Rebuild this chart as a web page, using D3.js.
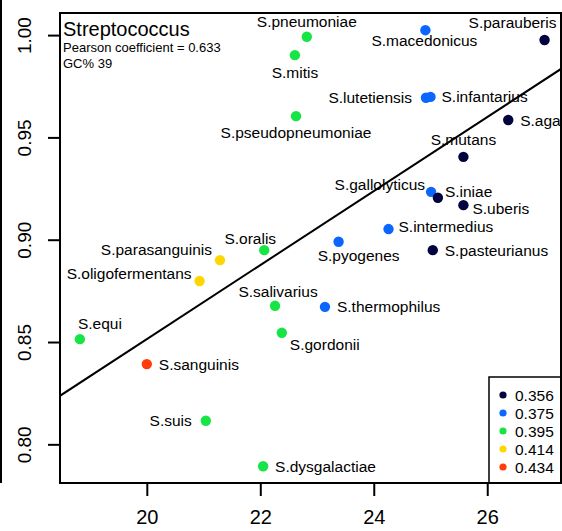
<!DOCTYPE html>
<html>
<head>
<meta charset="utf-8">
<script src="https://cdn.jsdelivr.net/npm/d3@7"></script>
<style>
  body { margin: 0; background: #fff; }
  text { font-family: "Liberation Sans", Arial, Helvetica, sans-serif; fill: #000; }
</style>
</head>
<body>
<div id="chart"></div>
<script>
var width = 562, height = 531;
var margin = { top: 13, right: 1, bottom: 48, left: 60 };

// species, x value, y value, GC group (index into gcLevels)
var species = ["S.pneumoniae", "S.mitis", "S.macedonicus", "S.parauberis", "S.lutetiensis",
  "S.infantarius", "S.agalactiae", "S.pseudopneumoniae", "S.mutans", "S.gallolyticus",
  "S.iniae", "S.uberis", "S.intermedius", "S.pyogenes", "S.pasteurianus", "S.thermophilus",
  "S.oralis", "S.parasanguinis", "S.oligofermentans", "S.salivarius", "S.gordonii",
  "S.equi", "S.sanguinis", "S.suis", "S.dysgalactiae"];
var xValues = [22.82, 22.61, 24.91, 27.01, 24.92, 25.00, 26.37, 22.63, 25.58, 25.01,
  25.13, 25.58, 24.26, 23.38, 25.04, 23.14, 22.07, 21.29, 20.93, 22.26, 22.38,
  18.82, 20.00, 21.04, 22.05];
var yValues = [0.9992, 0.9902, 1.0024, 0.9976, 0.9694, 0.9698, 0.9585, 0.9604, 0.9405, 0.9234,
  0.9205, 0.9169, 0.9052, 0.8990, 0.8949, 0.8672, 0.8949, 0.8900, 0.8798, 0.8677, 0.8545,
  0.8514, 0.8392, 0.8115, 0.7893];
var gcGroup = [2, 2, 1, 0, 1, 1, 0, 2, 0, 1, 0, 0, 1, 1, 0, 1, 2, 3, 3, 2, 2, 2, 4, 2, 2];

var gcLevels = ["0.356", "0.375", "0.395", "0.414", "0.434"];
var gcColors = ["#03033f", "#0a66ff", "#16e545", "#ffd700", "#ff3c0a"];

var xTicks = [20, 22, 24, 26];
var yTicks = [0.80, 0.85, 0.90, 0.95, 1.00];

// abline from lm fit
var fitIntercept = 0.4896, fitSlope = 0.01809;

var title = "Streptococcus";
var subtitle = ["Pearson coefficient = 0.633", "GC% 39"];

// label placement (pixels relative to point), like wordcloud::textplot output
var labelLayout = {
  "S.pneumoniae": [0, -15, "middle"],
  "S.mitis": [0, 17, "middle"],
  "S.macedonicus": [-1, 10, "middle"],
  "S.parauberis": [-32, -18, "middle"],
  "S.lutetiensis": [-14, 0, "end"],
  "S.infantarius": [11, 0, "start"],
  "S.agalactiae": [12, 0, "start"],
  "S.pseudopneumoniae": [0, 16, "middle"],
  "S.mutans": [0, -17, "middle"],
  "S.gallolyticus": [-6, -7, "end"],
  "S.iniae": [7, -6, "start"],
  "S.uberis": [9, 3, "start"],
  "S.intermedius": [10, -3, "start"],
  "S.pyogenes": [20, 14, "middle"],
  "S.pasteurianus": [12, 0, "start"],
  "S.thermophilus": [12, 0, "start"],
  "S.oralis": [-14, -12, "middle"],
  "S.parasanguinis": [-8, -11, "end"],
  "S.oligofermentans": [-8, -8, "end"],
  "S.salivarius": [3, -14, "middle"],
  "S.gordonii": [8, 12, "start"],
  "S.equi": [20, -16, "middle"],
  "S.sanguinis": [12, 0, "start"],
  "S.suis": [-14, 0, "end"],
  "S.dysgalactiae": [12, 0, "start"]
};

var data = species.map(function(s, i) {
  return { name: s, x: xValues[i], y: yValues[i], g: gcGroup[i] };
});

var x = d3.scaleLinear().domain([18.47, 27.30]).range([margin.left, width - margin.right]);
var y = d3.scaleLinear().domain([0.7811, 1.0108]).range([height - margin.bottom, margin.top]);

var svg = d3.select("#chart").append("svg")
  .attr("width", width)
  .attr("height", height);

// edge of neighbouring panel
svg.append("line")
  .attr("x1", 1).attr("x2", 1)
  .attr("y1", 0).attr("y2", height - margin.bottom)
  .attr("stroke", "#000").attr("stroke-width", 2);

svg.append("clipPath").attr("id", "plotclip")
  .append("rect")
  .attr("x", margin.left).attr("y", margin.top)
  .attr("width", width - margin.right - margin.left)
  .attr("height", height - margin.bottom - margin.top);

// axes
var xAxis = svg.append("g")
  .attr("transform", "translate(0," + (height - margin.bottom) + ")")
  .call(d3.axisBottom(x).tickValues(xTicks).tickSize(13).tickPadding(14).tickFormat(d3.format("d")));
xAxis.select(".domain").remove();
xAxis.selectAll("line").attr("stroke-width", 2);
xAxis.selectAll("text").style("font-size", "20px").attr("dy", "0.71em");

var yAxis = svg.append("g")
  .attr("transform", "translate(" + margin.left + ",0)")
  .call(d3.axisLeft(y).tickValues(yTicks).tickSize(12).tickFormat(d3.format(".2f")));
yAxis.select(".domain").remove();
yAxis.selectAll("line").attr("stroke-width", 2);
yAxis.selectAll("text")
  .style("font-size", "19px")
  .attr("text-anchor", "middle")
  .attr("x", null).attr("dy", null)
  .attr("transform", "translate(-29,0) rotate(-90)");

var plot = svg.append("g").attr("clip-path", "url(#plotclip)");

plot.selectAll(".dot")
  .data(data)
  .enter().append("circle")
  .attr("class", "dot")
  .attr("cx", function(d) { return x(d.x); })
  .attr("cy", function(d) { return y(d.y); })
  .attr("r", 5.2)
  .attr("fill", function(d) { return gcColors[d.g]; });

svg.selectAll(".lab")
  .data(data)
  .enter().append("text")
  .attr("class", "lab")
  .attr("x", function(d) { return x(d.x) + labelLayout[d.name][0]; })
  .attr("y", function(d) { return y(d.y) + labelLayout[d.name][1]; })
  .attr("dy", "0.36em")
  .attr("text-anchor", function(d) { return labelLayout[d.name][2]; })
  .style("font-size", "15.5px")
  .text(function(d) { return d.name; });

var xd = x.domain();
plot.append("line")
  .attr("x1", x(xd[0])).attr("y1", y(fitIntercept + fitSlope * xd[0]))
  .attr("x2", x(xd[1])).attr("y2", y(fitIntercept + fitSlope * xd[1]))
  .attr("stroke", "#000").attr("stroke-width", 2);

// title block
svg.append("text")
  .attr("x", margin.left + 3).attr("y", margin.top + 22.5)
  .style("font-size", "20px")
  .text(title);
svg.selectAll(".sub")
  .data(subtitle)
  .enter().append("text")
  .attr("class", "sub")
  .attr("x", margin.left + 3)
  .attr("y", function(d, i) { return margin.top + 39 + i * 16; })
  .style("font-size", "13px")
  .text(function(d) { return d; });

// legend
var lg = svg.append("g").attr("transform", "translate(489," + 377 + ")");
lg.append("rect")
  .attr("x", 0).attr("y", 0)
  .attr("width", 90).attr("height", height - margin.bottom - 377)
  .attr("fill", "#fff").attr("stroke", "#000").attr("stroke-width", 1.5);
var item = lg.selectAll(".item")
  .data(gcLevels)
  .enter().append("g")
  .attr("transform", function(d, i) { return "translate(0," + (18 + i * 18) + ")"; });
item.append("circle")
  .attr("cx", 14).attr("cy", 0).attr("r", 3.6)
  .attr("fill", function(d, i) { return gcColors[i]; });
item.append("text")
  .attr("x", 26).attr("dy", "0.36em")
  .style("font-size", "15.5px")
  .text(function(d) { return d; });

// plot frame
svg.append("rect")
  .attr("x", margin.left).attr("y", margin.top)
  .attr("width", width - margin.right - margin.left)
  .attr("height", height - margin.bottom - margin.top)
  .attr("fill", "none").attr("stroke", "#000").attr("stroke-width", 2);
</script>
</body>
</html>
